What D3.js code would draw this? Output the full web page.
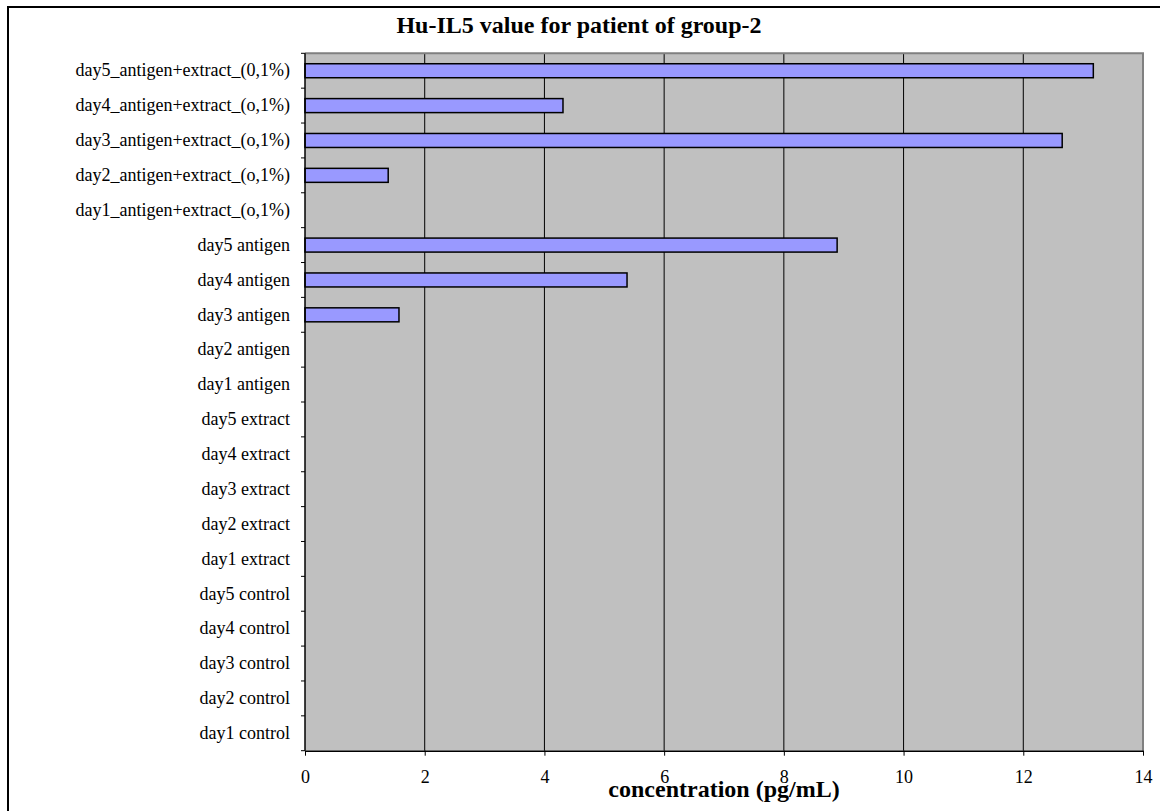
<!DOCTYPE html>
<html>
<head>
<meta charset="utf-8">
<script src="https://cdn.jsdelivr.net/npm/d3@7"></script>
<style>
  html, body { margin: 0; padding: 0; background: #ffffff; }
  svg { display: block; }
  svg text { font-family: "Liberation Serif", "Times New Roman", serif !important; fill: #000; }
</style>
</head>
<body>
<svg id="chart" width="1160" height="811"></svg>
<script>
// Categories, listed top to bottom as displayed
const categories = [
  "day5_antigen+extract_(0,1%)",
  "day4_antigen+extract_(o,1%)",
  "day3_antigen+extract_(o,1%)",
  "day2_antigen+extract_(o,1%)",
  "day1_antigen+extract_(o,1%)",
  "day5 antigen",
  "day4 antigen",
  "day3 antigen",
  "day2 antigen",
  "day1 antigen",
  "day5 extract",
  "day4 extract",
  "day3 extract",
  "day2 extract",
  "day1 extract",
  "day5 control",
  "day4 control",
  "day3 control",
  "day2 control",
  "day1 control"
];
const values = [13.17, 4.31, 12.65, 1.39, 0, 8.89, 5.38, 1.57, 0, 0, 0, 0, 0, 0, 0, 0, 0, 0, 0, 0];
const xTicks = [0, 2, 4, 6, 8, 10, 12, 14];
const titleText = "Hu-IL5 value for patient of group-2";
const xTitleText = "concentration (pg/mL)";

const svg = d3.select("#chart");
const plot = { left: 305, right: 1143, top: 53.3, bottom: 750.7 };
const serif = "'Liberation Serif', 'Times New Roman', serif";

const x = d3.scaleLinear().domain([0, 14]).range([plot.left, plot.right]);
const y = d3.scaleBand().domain(categories).range([plot.top, plot.bottom]).padding(0);

// outer chart border
svg.append("rect")
  .attr("x", 8).attr("y", 7).attr("width", 1170).attr("height", 820)
  .attr("fill", "#ffffff").attr("stroke", "#000").attr("stroke-width", 2);

// plot background
svg.append("rect")
  .attr("x", plot.left).attr("y", plot.top)
  .attr("width", plot.right - plot.left).attr("height", plot.bottom - plot.top)
  .attr("fill", "#c0c0c0");

// gridlines
svg.append("g").selectAll("line").data(xTicks.slice(1, -1)).join("line")
  .attr("x1", d => x(d)).attr("x2", d => x(d))
  .attr("y1", plot.top).attr("y2", plot.bottom)
  .attr("stroke", "#000").attr("stroke-width", 1);

// plot border (top/right gray)
svg.append("path")
  .attr("d", `M${plot.left},${plot.top}H${plot.right}V${plot.bottom}`)
  .attr("fill", "none").attr("stroke", "#808080").attr("stroke-width", 2);

// bars
const barH = 14;
svg.append("g").selectAll("rect").data(categories.map((c, i) => ({ c, v: values[i] })).filter(d => d.v > 0))
  .join("rect")
  .attr("x", x(0))
  .attr("y", d => y(d.c) + (y.bandwidth() - barH) / 2)
  .attr("width", d => x(d.v) - x(0))
  .attr("height", barH)
  .attr("fill", "#9999ff")
  .attr("stroke", "#000")
  .attr("stroke-width", 1.5);

// y axis line & ticks at band boundaries
const yAxisG = svg.append("g");
yAxisG.append("line")
  .attr("x1", plot.left).attr("x2", plot.left)
  .attr("y1", plot.top).attr("y2", plot.bottom)
  .attr("stroke", "#000").attr("stroke-width", 1.5);
const boundaries = categories.map(c => y(c)).concat([y(categories[categories.length - 1]) + y.bandwidth()]);
yAxisG.selectAll("line.tick").data(boundaries).join("line")
  .attr("class", "tick")
  .attr("x1", plot.left - 4).attr("x2", plot.left)
  .attr("y1", d => d).attr("y2", d => d)
  .attr("stroke", "#000").attr("stroke-width", 1);
yAxisG.selectAll("text").data(categories).join("text")
  .attr("x", 290)
  .attr("y", d => y(d) + y.bandwidth() / 2)
  .attr("dy", "0.32em")
  .attr("text-anchor", "end")
  .style("font-family", serif)
  .style("font-size", "18px")
  .text(d => d);

// x axis
const xAxis = d3.axisBottom(x).tickValues(xTicks).tickSize(5).tickSizeOuter(0).tickFormat(d3.format("d"));
const xg = svg.append("g").attr("transform", `translate(0,${plot.bottom})`).call(xAxis);
xg.attr("font-family", null).attr("font-size", null);
xg.select(".domain").attr("stroke", "#000").attr("stroke-width", 1.5);
xg.selectAll(".tick line").attr("stroke", "#000");
xg.selectAll(".tick text")
  .attr("y", 32).attr("dy", 0)
  .style("font-family", serif)
  .style("font-size", "18px").attr("fill", "#000");

// title
svg.append("text")
  .attr("x", 579).attr("y", 33)
  .attr("text-anchor", "middle")
  .style("font-family", serif)
  .style("font-size", "24px").style("font-weight", "bold")
  .text(titleText);

// x axis title
svg.append("text")
  .attr("x", (plot.left + plot.right) / 2).attr("y", 797)
  .attr("text-anchor", "middle")
  .style("font-family", serif)
  .style("font-size", "24px").style("font-weight", "bold")
  .text(xTitleText);
</script>
</body>
</html>
